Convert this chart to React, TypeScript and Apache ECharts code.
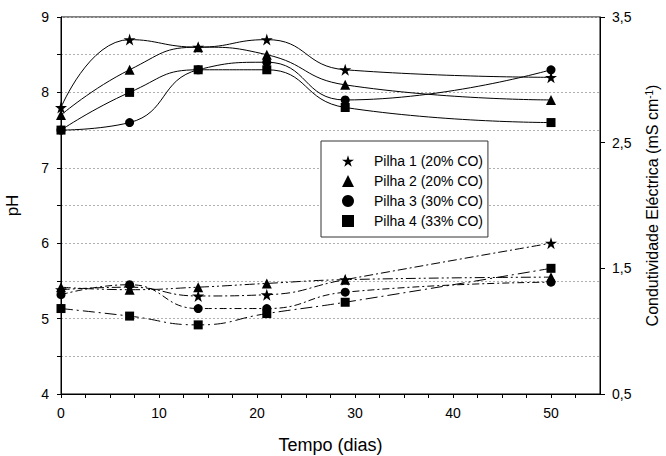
import React, { useEffect, useRef } from "react";
import * as echarts from "echarts";

const days = [0, 7, 14, 21, 29, 50];
const seriesNames = ["Pilha 1 (20% CO)", "Pilha 2 (20% CO)", "Pilha 3 (30% CO)", "Pilha 4 (33% CO)"];
const ph1 = [7.8, 8.7, 8.6, 8.7, 8.3, 8.2];
const ph2 = [7.7, 8.3, 8.6, 8.5, 8.1, 7.9];
const ph3 = [7.5, 7.6, 8.3, 8.4, 7.9, 8.3];
const ph4 = [7.5, 8.0, 8.3, 8.3, 7.8, 7.6];
const ce1 = [1.33, 1.35, 1.28, 1.29, 1.41, 1.7];
const ce2 = [1.35, 1.33, 1.35, 1.38, 1.41, 1.43];
const ce3 = [1.29, 1.37, 1.18, 1.18, 1.31, 1.39];
const ce4 = [1.18, 1.12, 1.05, 1.14, 1.23, 1.5];
const xLabelStep = 10;
const ceTicks = [0.5, 1.5, 2.5, 3.5];

const STAR =
  "path://M50,0L61.2,34.5L97.6,34.5L68.2,55.9L79.4,90.5L50,69.1L20.6,90.5L31.8,55.9L2.4,34.5L38.8,34.5Z";
const symbols = [STAR, "triangle", "circle", "rect"];
const symbolSizes = [12, 10, 9, 9];
const dashes = [
  [9, 3, 2, 3],
  [10, 3, 2, 3, 2, 3],
  [7, 3, 2, 3],
  [12, 4, 2, 4],
];
const FONT = 'Arial, "Liberation Sans", sans-serif';

export default function App() {
  const ref = useRef<HTMLDivElement>(null);
  useEffect(() => {
    if (!ref.current) return;
    const chart = echarts.init(ref.current, null, { renderer: "svg" });
    const phData = [ph1, ph2, ph3, ph4];
    const ceData = [ce1, ce2, ce3, ce4];
    const series: any[] = [];
    phData.forEach((arr, i) => {
      series.push({
        name: seriesNames[i],
        type: "line",
        yAxisIndex: 0,
        smooth: 0.5,
        data: days.map((d, j) => [d, arr[j]]),
        symbol: symbols[i],
        symbolSize: symbolSizes[i],
        itemStyle: { color: "#000" },
        lineStyle: { color: "#000", width: 1 },
      });
    });
    ceData.forEach((arr, i) => {
      series.push({
        name: seriesNames[i],
        type: "line",
        yAxisIndex: 1,
        smooth: 0.5,
        data: days.map((d, j) => [d, arr[j]]),
        symbol: symbols[i],
        symbolSize: symbolSizes[i],
        itemStyle: { color: "#000" },
        lineStyle: { color: "#000", width: 1, type: dashes[i] },
      });
    });
    chart.setOption({
      animation: false,
      backgroundColor: "#fff",
      textStyle: { fontFamily: FONT },
      grid: {
        left: 61,
        right: 66,
        top: 17,
        bottom: 62,
        show: true,
        borderColor: "#000",
        borderWidth: 1,
        outerBoundsMode: "none",
      },
      legend: {
        orient: "vertical",
        left: 321,
        top: 141,
        padding: [13, 5, 9, 21],
        itemWidth: 12,
        itemHeight: 12,
        itemGap: 6,
        borderColor: "#333",
        borderWidth: 1,
        backgroundColor: "#fff",
        selectedMode: false,
        textStyle: { fontSize: 14, color: "#000", fontFamily: FONT, padding: [0, 0, 0, 15] },
        data: seriesNames.map((n, i) => ({ name: n, icon: symbols[i], itemStyle: { color: "#000" } })),
      },
      xAxis: {
        type: "value",
        min: 0,
        max: 55,
        interval: 2.5,
        name: "Tempo (dias)",
        nameLocation: "middle",
        nameGap: 42,
        nameMoveOverlap: false,
        nameTextStyle: { fontSize: 18, color: "#000", fontFamily: FONT },
        axisLine: { show: true, lineStyle: { color: "#000", width: 1 } },
        axisTick: { show: true, length: 4, lineStyle: { color: "#000", width: 1 } },
        axisLabel: {
          fontSize: 14,
          color: "#000",
          margin: 12,
          fontFamily: FONT,
          showMaxLabel: false,
          formatter: (v: number) => (v % xLabelStep === 0 ? String(v) : ""),
        },
        splitLine: { show: false },
      },
      yAxis: [
        {
          type: "value",
          min: 4,
          max: 9,
          interval: 0.5,
          name: "pH",
          nameLocation: "middle",
          nameGap: 40,
          nameMoveOverlap: false,
          nameTextStyle: { fontSize: 17, color: "#000", fontFamily: FONT },
          axisLine: { show: true, lineStyle: { color: "#000", width: 1 } },
          axisTick: { show: true, length: 4, lineStyle: { color: "#000", width: 1 } },
          axisLabel: {
            fontSize: 14,
            color: "#000",
            margin: 12,
            fontFamily: FONT,
            formatter: (v: number) => (Number.isInteger(v) ? String(v) : ""),
          },
          splitLine: { show: true, lineStyle: { color: "#b0b0b0", type: [2, 2], width: 1 } },
        },
        {
          type: "value",
          position: "right",
          min: 0.5,
          max: 3.5,
          name: "Condutividade Eléctrica (mS cm{sup|-1})",
          nameLocation: "middle",
          nameGap: 44,
          nameMoveOverlap: false,
          nameTextStyle: {
            fontSize: 16,
            color: "#000",
            fontFamily: FONT,
            rich: { sup: { fontSize: 10, verticalAlign: "top", color: "#000", fontFamily: FONT, padding: [0, 0, 7, 0] } },
          },
          axisLine: { show: true, lineStyle: { color: "#000", width: 1 } },
          axisTick: { show: true, length: 5, customValues: ceTicks, lineStyle: { color: "#000", width: 1 } },
          axisLabel: {
            customValues: ceTicks,
            fontSize: 14,
            color: "#000",
            margin: 12,
            fontFamily: FONT,
            formatter: (v: number) => String(v).replace(".", ","),
          },
          splitLine: { show: false },
        },
      ],
      series,
    });
    return () => chart.dispose();
  }, []);
  return (
    <div
      ref={ref}
      style={{ position: "fixed", left: 0, top: 0, width: 666, height: 456, background: "#fff" }}
    />
  );
}
